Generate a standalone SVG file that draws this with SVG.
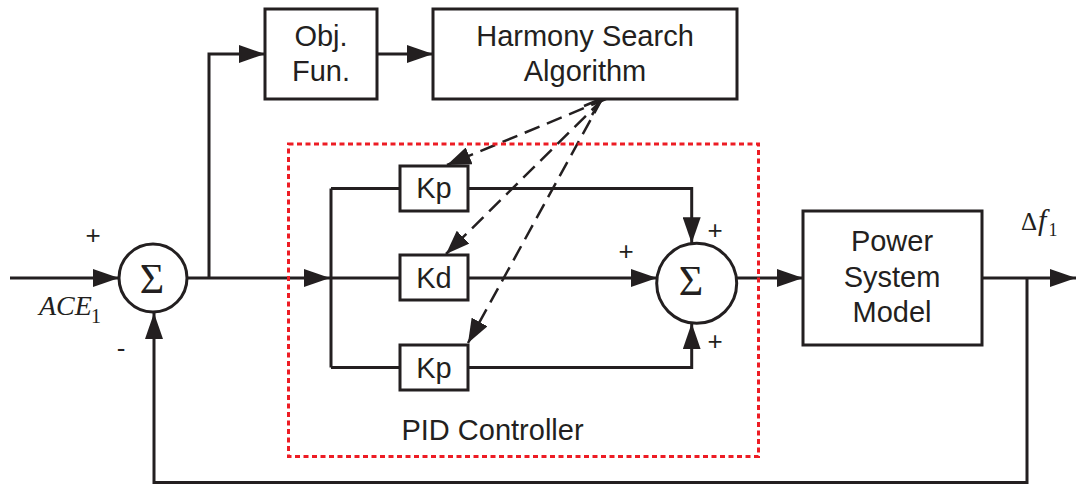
<svg xmlns="http://www.w3.org/2000/svg" width="1076" height="484" viewBox="0 0 1076 484">
<style>
.ln{fill:none;stroke:#231f20;stroke-width:3;}
.box{fill:#fff;stroke:#231f20;stroke-width:3;}
.dash{fill:none;stroke:#231f20;stroke-width:2.5;stroke-dasharray:16 8;}
.t{font-family:"Liberation Sans",Arial,sans-serif;font-size:29px;fill:#231f20;text-anchor:middle;}
.s{font-family:"Liberation Sans",Arial,sans-serif;font-size:26px;fill:#231f20;text-anchor:middle;}
.sig{font-family:"Liberation Serif","Times New Roman",serif;font-size:42px;fill:#231f20;text-anchor:middle;}
.m{font-family:"Liberation Serif","Times New Roman",serif;fill:#231f20;}
.red{fill:none;stroke:#ed1c24;stroke-width:3;stroke-dasharray:5 3.5;}
</style>
<defs>
<marker id="arr" markerUnits="userSpaceOnUse" viewBox="0 0 26 18" refX="26" refY="9" markerWidth="26" markerHeight="18" orient="auto">
<path d="M0,0 L26,9 L0,18 z" fill="#231f20" stroke="none"/>
</marker>
<marker id="arrD" markerUnits="userSpaceOnUse" viewBox="0 0 24 18" refX="24" refY="9" markerWidth="24" markerHeight="18" orient="auto">
<path d="M0,0 L24,9 L0,18 z" fill="#231f20" stroke="none"/>
</marker>
</defs>
<rect width="1076" height="484" fill="#fff"/>

<g id="connectors">
<path class="ln" d="M10,278 H119" marker-end="url(#arr)"/>
<path class="ln" d="M187,278 H330" marker-end="url(#arr)"/>
<path class="ln" d="M209,278 V54 H265" marker-end="url(#arr)"/>
<path class="ln" d="M377,54 H433" marker-end="url(#arr)"/>
<path class="ln" d="M331,188.5 V367.5"/>
<path class="ln" d="M331,188.5 H400 M330,278 H400 M331,367.5 H400"/>
<path class="ln" d="M468,188.5 H691.7 V243.3" marker-end="url(#arr)"/>
<path class="ln" d="M468,278 H657" marker-end="url(#arr)"/>
<path class="ln" d="M468,367.5 H691.7 V323.3" marker-end="url(#arr)"/>
<path class="ln" d="M737,278 H803" marker-end="url(#arr)"/>
<path class="ln" d="M982,278 H1076" marker-end="url(#arr)"/>
<path class="ln" d="M1027,278 V482.5 H154 V313" marker-end="url(#arr)"/>
<path class="dash" d="M606,99 L447,165" marker-end="url(#arrD)"/>
<path class="dash" d="M603,99 L446,254" marker-end="url(#arrD)"/>
<path class="dash" d="M602,99 L468,343" marker-end="url(#arrD)"/>
<polyline class="ln" style="stroke-width:2.5" points="584,106 602,98.5 592,115"/>
</g>

<g id="sum1">
<circle class="box" cx="153" cy="278" r="34"/>
<text class="sig" x="152" y="293">Σ</text>
<text class="s" x="93" y="244">+</text>
<text class="s" x="121" y="357">-</text>
</g>

<g id="input-label">
<text class="m" x="39" y="315"><tspan style="font-size:28px;font-style:italic">ACE</tspan><tspan dx="-1" dy="8" style="font-size:20px">1</tspan></text>
</g>

<g id="objfun">
<rect class="box" x="265" y="9" width="112" height="90"/>
<text class="t" x="321" y="46">Obj.</text>
<text class="t" x="321" y="81">Fun.</text>
</g>

<g id="hsa">
<rect class="box" x="433" y="9" width="304" height="90"/>
<text class="t" x="585" y="46">Harmony Search</text>
<text class="t" x="585" y="81">Algorithm</text>
</g>

<g id="kp1">
<rect class="box" x="400" y="166" width="68" height="45"/>
<text class="t" x="434" y="198">Kp</text>
</g>

<g id="kd">
<rect class="box" x="400" y="255" width="68" height="45"/>
<text class="t" x="434" y="287.5">Kd</text>
</g>

<g id="kp2">
<rect class="box" x="400" y="345" width="68" height="45"/>
<text class="t" x="434" y="377.5">Kp</text>
</g>

<g id="sum2">
<circle class="box" cx="696.7" cy="283.3" r="40"/>
<text class="sig" x="691" y="295">Σ</text>
<text class="s" x="715" y="238.5">+</text>
<text class="s" x="626" y="260">+</text>
<text class="s" x="715" y="350">+</text>
</g>

<g id="power">
<rect class="box" x="803" y="211" width="179" height="134"/>
<text class="t" x="892" y="251">Power</text>
<text class="t" x="892" y="287">System</text>
<text class="t" x="892" y="322">Model</text>
</g>

<g id="output-label">
<text class="m" x="1021" y="230"><tspan style="font-size:25px">Δ</tspan><tspan dx="1" style="font-size:30px;font-style:italic">f</tspan><tspan dx="2" dy="6" style="font-size:18px">1</tspan></text>
</g>

<g id="pid">
<rect class="red" x="288.5" y="144" width="470" height="312.5"/>
<text class="t" x="492.5" y="440">PID Controller</text>
</g>
</svg>
